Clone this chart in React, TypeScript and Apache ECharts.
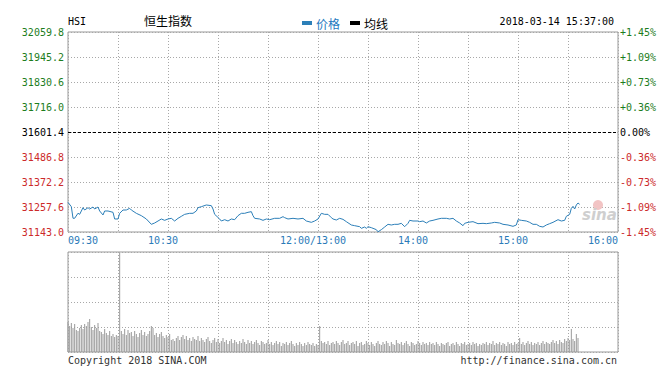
import React, { useEffect, useRef } from "react";
import * as echarts from "echarts";

const prevClose = 31601.4;
const priceStep = 114.6;
const leftTickLabels = ["31143.0", "31257.6", "31372.2", "31486.8", "31601.4", "31716.0", "31830.6", "31945.2", "32059.8"];
const rightTickLabels = ["-1.45%", "-1.09%", "-0.73%", "-0.36%", "0.00%", "+0.36%", "+0.73%", "+1.09%", "+1.45%"];
const xTickMinutes = [0, 60, 150, 210, 270, 330];
const xTickLabels = ["09:30", "10:30", "12:00/13:00", "14:00", "15:00", "16:00"];

const priceMinutes = [
  0, 2, 3, 4, 6, 7, 9, 10, 12, 13, 15, 16, 18, 19, 21, 22, 24, 27, 28, 30,
  31, 33, 35, 37, 38, 41, 44, 47, 50, 52, 54, 56, 58, 60, 62, 64, 66, 68, 70, 73,
  75, 77, 78, 80, 83, 86, 87, 88, 91, 92, 94, 96, 98, 100, 102, 104, 106, 108, 110, 111,
  112, 115, 117, 119, 121, 124, 127, 129, 130, 132, 135, 138, 141, 143, 146, 148, 150, 152, 154, 156,
  158, 159, 161, 163, 165, 167, 170, 172, 175, 176, 178, 179, 180, 182, 183, 185, 186, 188, 190, 192,
  194, 196, 198, 200, 202, 204, 205, 207, 210, 211, 213, 215, 217, 219, 222, 224, 227, 229, 231, 233,
  235, 237, 238, 240, 243, 246, 249, 251, 254, 256, 259, 261, 264, 267, 269, 270, 272, 275, 277, 279,
  281, 283, 285, 287, 289, 291, 294, 296, 298, 299, 301, 302, 303, 304, 305, 306, 307
];
const prices = [
  31279.0, 31259.1, 31206.0, 31206.0, 31229.0, 31224.0, 31254.5, 31243.8, 31254.5, 31248.4,
  31257.6, 31248.4, 31257.6, 31239.3, 31221.0, 31239.3, 31239.3, 31233.2, 31202.6, 31202.6,
  31228.6, 31243.8, 31243.8, 31251.5, 31243.8, 31228.6, 31217.9, 31202.6, 31178.2, 31184.3,
  31193.4, 31202.6, 31196.5, 31202.6, 31205.7, 31193.4, 31205.7, 31214.8, 31224.0, 31228.6,
  31228.6, 31239.3, 31254.5, 31259.1, 31266.8, 31263.7, 31248.4, 31224.0, 31202.6, 31193.4,
  31199.5, 31193.4, 31202.6, 31199.5, 31217.9, 31228.6, 31228.6, 31233.2, 31236.2, 31217.9,
  31205.7, 31202.6, 31196.5, 31202.6, 31199.5, 31205.7, 31205.7, 31213.3, 31208.7, 31202.6,
  31205.7, 31202.6, 31205.7, 31193.4, 31187.3, 31193.4, 31202.6, 31228.6, 31224.0, 31224.0,
  31208.7, 31202.6, 31198.0, 31205.7, 31201.0, 31190.4, 31175.1, 31172.0, 31167.4, 31159.8,
  31165.9, 31159.8, 31167.4, 31162.8, 31159.8, 31153.7, 31144.0, 31153.7, 31165.9, 31178.2,
  31175.1, 31178.2, 31178.2, 31182.7, 31167.4, 31182.7, 31196.5, 31193.4, 31193.4, 31190.4,
  31193.4, 31184.3, 31193.4, 31196.5, 31202.6, 31205.7, 31205.7, 31202.6, 31205.7, 31193.4,
  31184.3, 31172.0, 31182.7, 31187.3, 31190.4, 31181.2, 31182.7, 31181.2, 31184.3, 31187.3,
  31184.3, 31178.2, 31175.1, 31169.0, 31175.1, 31199.5, 31196.5, 31193.4, 31187.3, 31178.2,
  31178.2, 31169.0, 31165.9, 31175.1, 31181.2, 31187.3, 31199.5, 31193.4, 31196.5, 31214.8,
  31224.0, 31251.5, 31260.7, 31248.4, 31266.8, 31276.0, 31269.8
];

const volumes = [
  30, 26, 29, 24, 28, 22, 21, 24, 27, 23,
  28, 26, 30, 33, 25, 22, 27, 24, 29, 21,
  20, 18, 23, 19, 17, 21, 16, 18, 15, 17,
  16, 99, 21, 18, 23, 17, 22, 19, 20, 16,
  21, 18, 15, 19, 22, 17, 20, 16, 18, 21,
  26, 24, 17, 19, 15, 18, 20, 16, 14, 17,
  15, 18, 12, 13, 11, 14, 16, 12, 15, 17,
  13, 16, 12, 14, 11, 15, 13, 12, 16, 11,
  14, 12, 10, 13, 15, 11, 9, 12, 14, 10,
  13, 9, 11, 14, 10, 12, 8, 11, 13, 9,
  12, 10, 8, 11, 9, 13, 10, 8, 12, 9,
  11, 8, 10, 12, 9, 7, 11, 10, 8, 9,
  12, 8, 10, 7, 9, 11, 8, 10, 6, 9,
  8, 10, 7, 9, 11, 8, 6, 9, 7, 10,
  8, 6, 9, 7, 10, 8, 7, 9, 6, 8,
  7, 26, 11, 9, 10, 8, 11, 7, 9, 10,
  8, 11, 9, 7, 10, 12, 8, 9, 11, 7,
  9, 10, 8, 11, 6, 9, 10, 7, 8, 11,
  9, 7, 10, 8, 6, 9, 11, 8, 7, 10,
  8, 11, 9, 6, 10, 8, 7, 12, 9, 8,
  10, 7, 9, 11, 8, 6, 10, 9, 7, 8,
  11, 9, 7, 10, 8, 9, 7, 10, 8, 9,
  7, 10, 8, 6, 9, 8, 7, 9, 10, 6,
  8, 9, 7, 10, 8, 6, 9, 8, 10, 7,
  8, 9, 7, 10, 8, 9, 6, 8, 7, 9,
  8, 10, 7, 9, 8, 11, 7, 9, 8, 10,
  7, 9, 8, 6, 10, 8, 9, 7, 10, 8,
  9, 14, 8, 10, 7, 9, 11, 8, 10, 7,
  9, 8, 10, 7, 9, 11, 8, 10, 9, 8,
  10, 12, 9, 11, 8, 12, 10, 9, 13, 11,
  14, 12, 23, 13, 11, 18, 14
];

const MONO = '"DejaVu Sans Mono", "Liberation Mono", monospace';
const CJK = '"Noto Sans CJK SC", sans-serif';
const GREEN = "#1d7d1d";
const RED = "#cc2a2a";
const LINE_BLUE = "#2c7fb8";
const LABEL_BLUE = "#2a7ab8";
const GRID_DOT = "#a8a8a8";
const BORDER = "#999999";

function tickIndex(v: any) {
  return Math.round(Number(v) / priceStep) + 4;
}
function labelColor(v: any) {
  const i = tickIndex(v);
  if (i < 4) return RED;
  if (i > 4) return GREEN;
  return "#000000";
}

export default function App() {
  const ref = useRef<HTMLDivElement>(null);
  useEffect(() => {
    if (!ref.current) return;
    const chart = echarts.init(ref.current, null, { renderer: "svg" });
    const xLabelFormatter = (value: any) => {
      const i = xTickMinutes.indexOf(Math.round(Number(value)));
      if (i < 0) return "";
      if (i === 0 || i === xTickLabels.length - 1) return `{e|${xTickLabels[i]}}`;
      return `{m|${xTickLabels[i]}}`;
    };
    const labelRichBase = { fontFamily: MONO, fontSize: 10, color: LABEL_BLUE };
    chart.setOption({
      animation: false,
      backgroundColor: "#ffffff",
      legend: {
        left: 297,
        top: 12,
        itemWidth: 10,
        itemHeight: 4,
        itemGap: 10,
        icon: "rect",
        textStyle: { fontFamily: CJK, fontSize: 12, padding: [0, 0, 0, -1] },
        data: [
          { name: "价格", textStyle: { color: "#2479c0" } },
          { name: "均线", textStyle: { color: "#000000" } },
        ],
      },
      grid: [
        { left: 68, top: 32, width: 550, height: 200, show: true, borderColor: BORDER, borderWidth: 1 },
        { left: 68, top: 252, width: 550, height: 100, show: true, borderColor: BORDER, borderWidth: 1 },
      ],
      xAxis: [
        {
          type: "value",
          gridIndex: 0,
          min: 0,
          max: 330,
          interval: 30,
          axisLine: { show: false },
          axisTick: { show: false },
          splitLine: { show: true, lineStyle: { color: GRID_DOT, type: [1, 2], width: 1 } },
          axisLabel: {
            show: true,
            margin: 3,
            showMinLabel: true,
            showMaxLabel: true,
            alignMinLabel: "left",
            alignMaxLabel: "right",
            formatter: xLabelFormatter,
            rich: {
              e: { ...labelRichBase },
              m: { ...labelRichBase, padding: [0, 10, 0, 0] },
            },
          },
        },
        {
          type: "value",
          gridIndex: 1,
          min: 0,
          max: 330,
          interval: 30,
          axisLine: { show: false },
          axisTick: { show: false },
          axisLabel: { show: false },
          splitLine: { show: true, lineStyle: { color: GRID_DOT, type: [1, 2], width: 1 } },
        },
      ],
      yAxis: [
        {
          type: "value",
          gridIndex: 0,
          position: "left",
          min: -4 * priceStep,
          max: 4 * priceStep,
          interval: priceStep,
          axisLine: { show: false },
          axisTick: { show: false },
          splitLine: { show: true, lineStyle: { color: GRID_DOT, type: [1, 2], width: 1 } },
          axisLabel: {
            margin: 4,
            fontFamily: MONO,
            fontSize: 10,
            padding: [0, 0, 4, 0],
            color: (v: any) => labelColor(v),
            formatter: (v: any) => leftTickLabels[tickIndex(v)] ?? "",
          },
        },
        {
          type: "value",
          gridIndex: 0,
          position: "right",
          min: -4 * priceStep,
          max: 4 * priceStep,
          interval: priceStep,
          axisLine: { show: false },
          axisTick: { show: false },
          splitLine: { show: false },
          axisLabel: {
            margin: 2,
            fontFamily: MONO,
            fontSize: 10,
            padding: [0, 0, 4, 0],
            color: (v: any) => labelColor(v),
            formatter: (v: any) => rightTickLabels[tickIndex(v)] ?? "",
          },
        },
        {
          type: "value",
          gridIndex: 1,
          min: 0,
          max: 100,
          interval: 25,
          axisLine: { show: false },
          axisTick: { show: false },
          axisLabel: { show: false },
          splitLine: { show: true, lineStyle: { color: GRID_DOT, type: [1, 2], width: 1 } },
        },
      ],
      series: [
        {
          name: "价格",
          type: "line",
          xAxisIndex: 0,
          yAxisIndex: 0,
          symbol: "none",
          color: LINE_BLUE,
          lineStyle: { color: LINE_BLUE, width: 1 },
          data: prices.map((p, i) => [priceMinutes[i], +(p - prevClose).toFixed(1)]),
          markLine: {
            silent: true,
            symbol: ["none", "none"],
            label: { show: false },
            lineStyle: { color: "#000000", type: [3, 2], width: 1 },
            data: [{ yAxis: 0 }],
          },
          z: 5,
        },
        {
          name: "均线",
          type: "line",
          xAxisIndex: 0,
          yAxisIndex: 0,
          symbol: "none",
          color: "#000000",
          lineStyle: { color: "#000000", width: 1 },
          data: [],
        },
        {
          name: "成交量",
          type: "bar",
          xAxisIndex: 1,
          yAxisIndex: 2,
          barWidth: 1,
          itemStyle: { color: "#9a9a9a" },
          data: volumes.map((v, i) => [i, v]),
        },
      ],
      graphic: [
        { type: "text", left: 68, top: 16, style: { text: "HSI", font: `10px ${MONO}`, fill: "#000000" } },
        { type: "text", left: 144, top: 14, style: { text: "恒生指数", font: `12px ${CJK}`, fill: "#000000" } },
        { type: "text", right: 57, top: 16, style: { text: "2018-03-14 15:37:00", font: `10px ${MONO}`, fill: "#000000" } },
        { type: "text", left: 68, top: 355, style: { text: "Copyright 2018 SINA.COM", font: `10px ${MONO}`, fill: "#333333" } },
        { type: "text", right: 54, top: 355, style: { text: "http://finance.sina.com.cn", font: `10px ${MONO}`, fill: "#333333" } },
        { type: "circle", shape: { cx: 598, cy: 205, r: 5 }, style: { fill: "#f2c4c4" }, z: 1 },
        { type: "text", left: 582, top: 207, z: 1, style: { text: "sina", font: `italic bold 15px "DejaVu Sans", sans-serif`, fill: "#cfcfcf" } },
      ],
    });
    return () => chart.dispose();
  }, []);
  return <div ref={ref} style={{ position: "absolute", left: 0, top: 0, width: 671, height: 372 }} />;
}
